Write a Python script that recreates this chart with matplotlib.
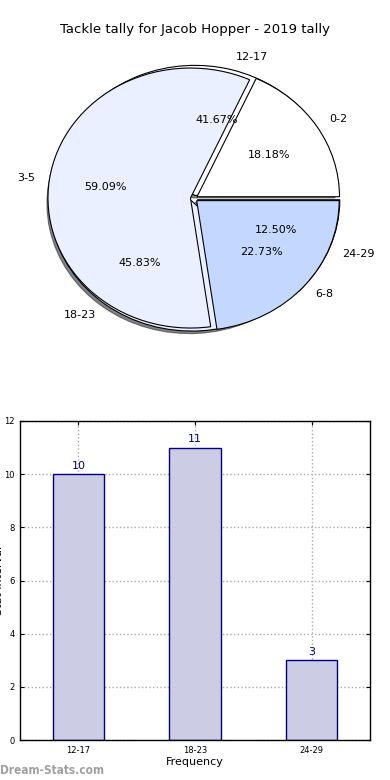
import matplotlib
matplotlib.use("Agg")
import matplotlib.pyplot as plt

# ---- data ----
pie1_labels = ["0-2", "3-5", "6-8"]
pie1_values = [4, 13, 5]
bar_labels = ["12-17", "18-23", "24-29"]
bar_values = [10, 11, 3]
title = "Tackle tally for Jacob Hopper - 2019 tally"
yticks = [0, 2, 4, 6, 8, 10, 12]

pie_colors = ["#ffffff", "#eaf0ff", "#c4d8ff"]
W, H = 390, 780
fig = plt.figure(figsize=(W / 100, H / 100), dpi=100)

# ---- pie axes ----
rx, ry, cx, cy = 142.5, 130, 194, 198.5
axp = fig.add_axes([(cx - 1.25 * rx) / W, 1 - (cy + 1.25 * ry) / H,
                    2.5 * rx / W, 2.5 * ry / H])
wp = dict(edgecolor="black", linewidth=0.8)
tp = dict(fontsize=8)
axp.pie(bar_values, labels=bar_labels, colors=pie_colors, autopct="%1.2f%%",
        explode=[0.025] * 3,
        shadow={"ox": -0.012, "oy": -0.014, "shade": 0.8, "alpha": 0.6},
        wedgeprops=wp, textprops=tp)
axp.pie(pie1_values, labels=pie1_labels, colors=pie_colors, autopct="%1.2f%%",
        explode=[0.025] * 3, shadow=False, wedgeprops=wp, textprops=tp)
axp.set_aspect("auto")
axp.set_xlim(-1.25, 1.25)
axp.set_ylim(-1.25, 1.25)
axp.axis("off")

fig.text(195 / W, 1 - 30 / H, title, ha="center", va="center", fontsize=9.5)

# ---- bar axes ----
axb = fig.add_axes([20 / W, 1 - 740 / H, 350 / W, 319 / H])
x = list(range(len(bar_values)))
bars = axb.bar(x, bar_values, width=0.44, color="#cccce5", edgecolor="#000080",
               linewidth=1.0, zorder=2)
for xi, v in zip(x, bar_values):
    axb.text(xi, v + 0.12, str(v), ha="center", va="bottom", color="#000080",
             fontsize=8, zorder=3)
axb.set_xlim(-0.5, 2.5)
axb.set_ylim(0, 12)
axb.set_xticks(x)
axb.set_xticklabels(bar_labels)
axb.set_yticks(yticks)
axb.tick_params(direction="in", top=True, right=True, labelsize=6, length=3,
                width=0.8, pad=4)
axb.grid(True, linestyle=":", color="#aaaaaa", linewidth=1, zorder=0)
axb.set_axisbelow(True)
for s in axb.spines.values():
    s.set_linewidth(1.0)
axb.set_xlabel("Frequency", fontsize=8, labelpad=2)
axb.set_ylabel("Stat Interval", fontsize=8)
axb.yaxis.set_label_coords(-16 / 350, 0.5)

fig.text(0.0 / W, 1 - 771 / H, "Dream-Stats.com", ha="left", va="center",
         fontsize=8.5, color="#a0a0a0", fontweight="bold",
         fontfamily="DejaVu Sans", fontstretch="condensed")

fig.savefig("out.png", dpi=100)
